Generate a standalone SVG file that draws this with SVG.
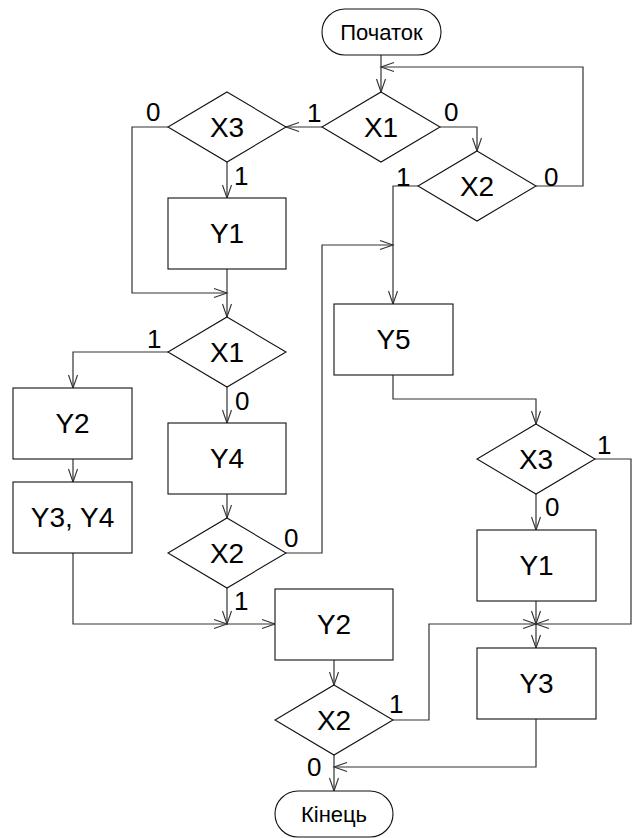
<svg xmlns="http://www.w3.org/2000/svg" width="638" height="838" viewBox="0 0 638 838">
<defs>
<marker id="ar" markerUnits="userSpaceOnUse" markerWidth="16" markerHeight="12" viewBox="-14 -6 16 12" refX="0" refY="0" orient="auto">
<path d="M-13,-4.5 L0,0 L-13,4.5" fill="none" stroke="#333" stroke-width="1.1"/>
</marker>
</defs>
<style>
.s{fill:#fff;stroke:#111;stroke-width:1.1}
.c{fill:none;stroke:#333;stroke-width:1.2;marker-end:url(#ar)}
.n{font-family:"Liberation Sans",Arial,sans-serif;font-size:28px;fill:#000;text-anchor:middle}
.t{font-family:"Liberation Sans",Arial,sans-serif;font-size:22px;fill:#000;text-anchor:middle}
.l{font-family:"Liberation Sans",Arial,sans-serif;font-size:26px;fill:#000}
</style>
<rect width="638" height="838" fill="#fff"/>
<g id="connectors">
<path class="c" d="M381,55 V92"/>
<path class="c" d="M536,186 H583 V67 H381"/>
<path class="c" d="M322,127 H286"/>
<path class="c" d="M440,127 H477 V151"/>
<path class="c" d="M227,162 V198"/>
<path class="c" d="M168,127 H132 V293 H227"/>
<path class="c" d="M227,269 V317"/>
<path class="c" d="M168,352 H73 V388"/>
<path class="c" d="M227,387 V423"/>
<path class="c" d="M73,459 V482"/>
<path class="c" d="M227,494 V518"/>
<path class="c" d="M73,553 V624 H227"/>
<path class="c" d="M227,588 V624"/>
<path class="c" d="M227,624 H275"/>
<path class="c" d="M286,553 H322 V245 H393"/>
<path class="c" d="M418,186 H393 V304"/>
<path class="c" d="M393,375 V399 H536 V424"/>
<path class="c" d="M536,494 V530"/>
<path class="c" d="M536,601 V624"/>
<path class="c" d="M595,459 H631 V624 H536"/>
<path class="c" d="M393,720 H429 V624 H536"/>
<path class="c" d="M536,624 V648"/>
<path class="c" d="M334,660 V685"/>
<path class="c" d="M334,755 V791"/>
<path class="c" d="M536,719 V767 H334"/>
</g>
<g id="start"><rect class="s" x="322" y="9" width="119" height="46" rx="23"/><text class="t" x="381.5" y="40">Початок</text></g>
<g id="x1a"><polygon class="s" points="381,92 440,127 381,162 322,127"/><text class="n" x="381" y="137">X1</text></g>
<g id="x3a"><polygon class="s" points="227,92 286,127 227,162 168,127"/><text class="n" x="227" y="137">X3</text></g>
<g id="x2a"><polygon class="s" points="477,151 536,186 477,221 418,186"/><text class="n" x="477" y="196">X2</text></g>
<g id="y1a"><rect class="s" x="168" y="198" width="118" height="71"/><text class="n" x="227" y="243">Y1</text></g>
<g id="x1b"><polygon class="s" points="227,317 286,352 227,387 168,352"/><text class="n" x="227" y="362">X1</text></g>
<g id="y2a"><rect class="s" x="13" y="388" width="119" height="71"/><text class="n" x="72.5" y="433">Y2</text></g>
<g id="y34"><rect class="s" x="13" y="482" width="119" height="71"/><text class="n" x="72.5" y="527">Y3, Y4</text></g>
<g id="y4"><rect class="s" x="168" y="423" width="118" height="71"/><text class="n" x="227" y="468">Y4</text></g>
<g id="x2b"><polygon class="s" points="227,518 286,553 227,588 168,553"/><text class="n" x="227" y="563">X2</text></g>
<g id="y5"><rect class="s" x="334" y="304" width="119" height="71"/><text class="n" x="393.5" y="349">Y5</text></g>
<g id="x3b"><polygon class="s" points="536,424 595,459 536,494 477,459"/><text class="n" x="536" y="469">X3</text></g>
<g id="y1b"><rect class="s" x="477" y="530" width="119" height="71"/><text class="n" x="536.5" y="575">Y1</text></g>
<g id="y3"><rect class="s" x="477" y="648" width="119" height="71"/><text class="n" x="536.5" y="693">Y3</text></g>
<g id="y2b"><rect class="s" x="275" y="589" width="118" height="71"/><text class="n" x="334" y="634">Y2</text></g>
<g id="x2c"><polygon class="s" points="334,685 393,720 334,755 275,720"/><text class="n" x="334" y="730">X2</text></g>
<g id="end"><rect class="s" x="275" y="791" width="118" height="46" rx="23"/><text class="t" x="334" y="822">Кінець</text></g>
<g id="labels">
<text class="l" x="146" y="121">0</text>
<text class="l" x="307" y="122">1</text>
<text class="l" x="444" y="121">0</text>
<text class="l" x="234" y="185">1</text>
<text class="l" x="396" y="186">1</text>
<text class="l" x="544" y="186">0</text>
<text class="l" x="147" y="348">1</text>
<text class="l" x="235" y="410">0</text>
<text class="l" x="284" y="547">0</text>
<text class="l" x="234" y="610">1</text>
<text class="l" x="597" y="454">1</text>
<text class="l" x="545" y="516">0</text>
<text class="l" x="389" y="713">1</text>
<text class="l" x="307" y="776">0</text>
</g>
</svg>
